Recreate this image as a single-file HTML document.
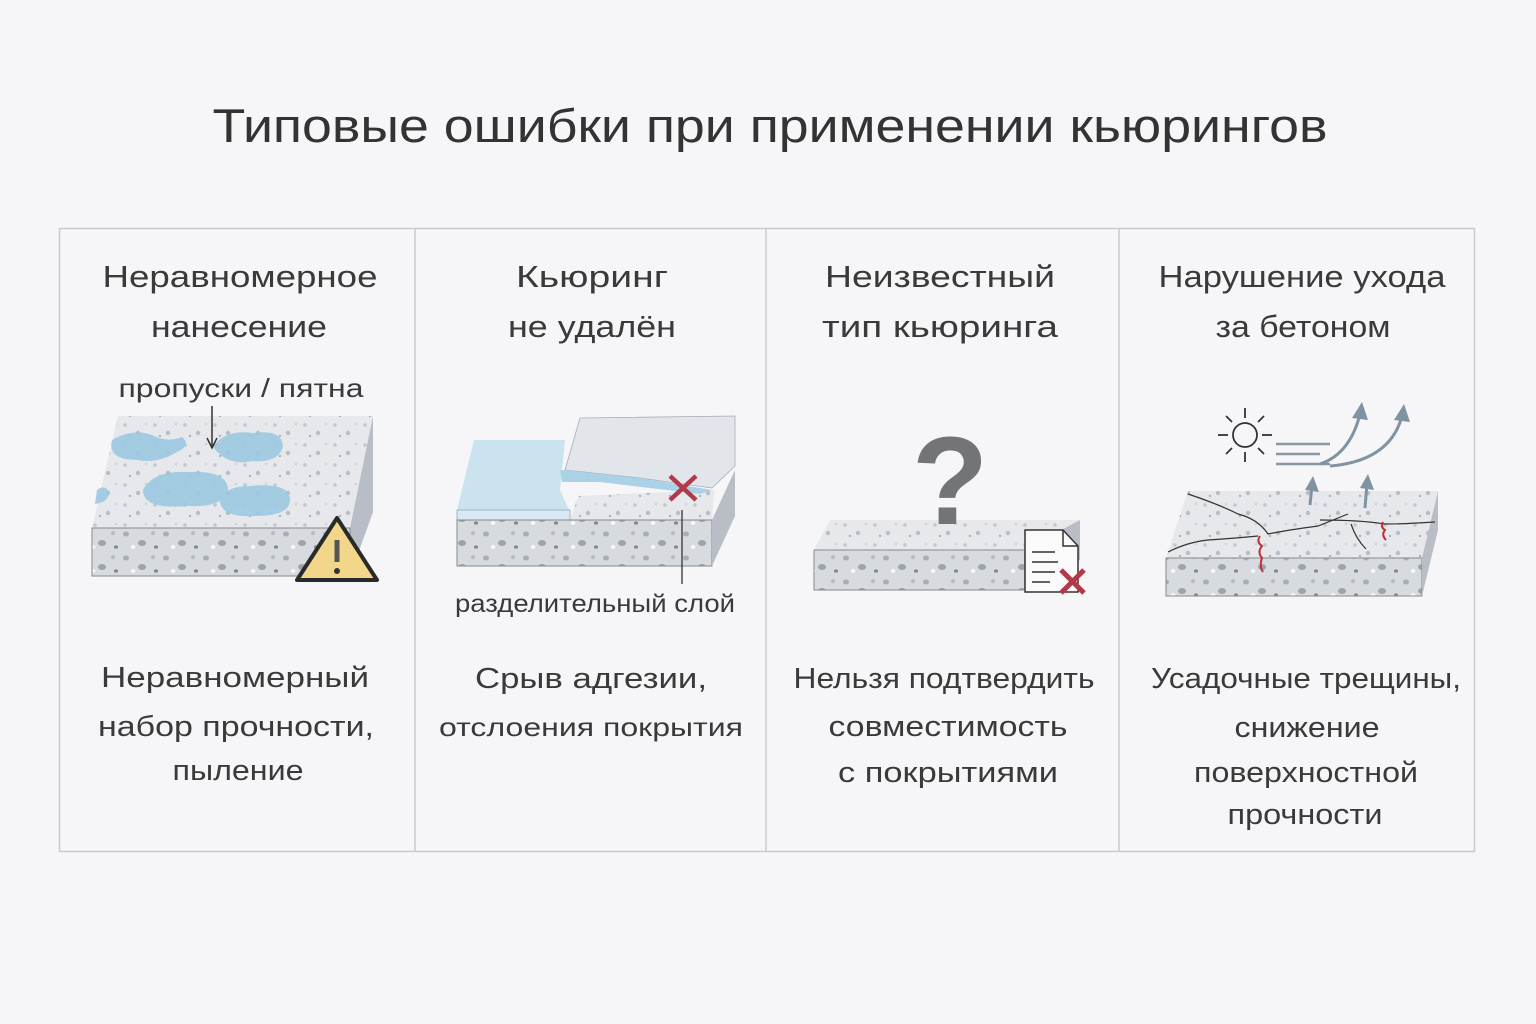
<!DOCTYPE html>
<html><head><meta charset="utf-8"><style>
html,body{margin:0;padding:0;background:#f6f5f8;}
svg{display:block}
text{font-family:"Liberation Sans","DejaVu Sans",sans-serif;fill:#3a3a3a}
</style></head><body>
<svg width="1536" height="1024" viewBox="0 0 1536 1024" xmlns="http://www.w3.org/2000/svg">
<defs>
<pattern id="agg" width="40" height="24" patternUnits="userSpaceOnUse">
<rect width="40" height="24" fill="#d7dadf"/>
<ellipse cx="6" cy="6" rx="3" ry="2.5" fill="#a9adb4"/>
<ellipse cx="22" cy="15" rx="4" ry="3" fill="#9ea3aa"/>
<ellipse cx="33" cy="5" rx="2" ry="2" fill="#b7bbc1"/>
<ellipse cx="13" cy="19" rx="2.5" ry="2" fill="#f4f5f7"/>
<ellipse cx="36" cy="19" rx="2" ry="1.6" fill="#7f848b"/>
</pattern>
<pattern id="aggt" width="30" height="20" patternUnits="userSpaceOnUse">
<rect width="30" height="20" fill="#e6e8ec"/>
<circle cx="5" cy="5" r="1.8" fill="#c3c7cd"/>
<circle cx="18" cy="13" r="2.2" fill="#b9bdc4"/>
<circle cx="26" cy="4" r="1.3" fill="#cfd2d7"/>
<circle cx="10" cy="16" r="1.2" fill="#aeb2b9"/>
</pattern>
</defs>

<text x="770" y="142" font-size="47" text-anchor="middle" textLength="1115" lengthAdjust="spacingAndGlyphs" style="fill:#333">Типовые ошибки при применении кьюрингов</text>

<rect x="59.5" y="228.5" width="1415" height="623" fill="none" stroke="#c9c9cf" stroke-width="1.5"/>
<line x1="415" y1="228" x2="415" y2="852" stroke="#c9c9cf" stroke-width="1.5"/>
<line x1="766" y1="228" x2="766" y2="852" stroke="#c9c9cf" stroke-width="1.5"/>
<line x1="1119" y1="228" x2="1119" y2="852" stroke="#c9c9cf" stroke-width="1.5"/>

<g font-size="31" text-anchor="middle">
<text x="240" y="287" textLength="275" lengthAdjust="spacingAndGlyphs">Неравномерное</text>
<text x="239" y="337" textLength="176" lengthAdjust="spacingAndGlyphs">нанесение</text>
<text x="592" y="287" textLength="152" lengthAdjust="spacingAndGlyphs">Кьюринг</text>
<text x="592" y="337" textLength="168" lengthAdjust="spacingAndGlyphs">не удалён</text>
<text x="940" y="287" textLength="230" lengthAdjust="spacingAndGlyphs">Неизвестный</text>
<text x="940" y="337" textLength="236" lengthAdjust="spacingAndGlyphs">тип кьюринга</text>
<text x="1302" y="287" textLength="287" lengthAdjust="spacingAndGlyphs">Нарушение ухода</text>
<text x="1303" y="337" textLength="175" lengthAdjust="spacingAndGlyphs">за бетоном</text>
</g>
<g font-size="29" text-anchor="middle">
<text x="235" y="687" textLength="268" lengthAdjust="spacingAndGlyphs">Неравномерный</text>
<text x="236" y="736" textLength="276" lengthAdjust="spacingAndGlyphs">набор прочности,</text>
<text x="238" y="780" textLength="131" lengthAdjust="spacingAndGlyphs">пыление</text>
<text x="591" y="688" textLength="232" lengthAdjust="spacingAndGlyphs">Срыв адгезии,</text>
<text x="591" y="736" font-size="26" textLength="304" lengthAdjust="spacingAndGlyphs">отслоения покрытия</text>
<text x="944" y="688" textLength="301" lengthAdjust="spacingAndGlyphs">Нельзя подтвердить</text>
<text x="948" y="736" textLength="239" lengthAdjust="spacingAndGlyphs">совместимость</text>
<text x="948" y="782" textLength="220" lengthAdjust="spacingAndGlyphs">с покрытиями</text>
<text x="1306" y="688" textLength="310" lengthAdjust="spacingAndGlyphs">Усадочные трещины,</text>
<text x="1307" y="737" textLength="145" lengthAdjust="spacingAndGlyphs">снижение</text>
<text x="1306" y="782" textLength="224" lengthAdjust="spacingAndGlyphs">поверхностной</text>
<text x="1305" y="824" textLength="155" lengthAdjust="spacingAndGlyphs">прочности</text>
</g>

<!-- Panel 1 -->
<text x="241" y="397" font-size="26" text-anchor="middle" textLength="245" lengthAdjust="spacingAndGlyphs">пропуски / пятна</text>
<polygon points="92,528 118,416 373,416 350,528" fill="url(#aggt)"/>
<g fill="#9cc9e3" opacity="0.9">
<path d="M112 440 q20 -12 40 -5 q15 8 30 2 q10 8 -5 15 q-20 12 -40 8 q-30 0 -25 -20z"/>
<path d="M213 447 q12 -18 40 -14 q30 -4 30 14 q-5 16 -30 14 q-25 6 -40 -14z"/>
<path d="M143 490 q10 -20 45 -18 q40 -2 40 18 q-5 18 -40 16 q-45 4 -45 -16z"/>
<path d="M220 500 q5 -14 30 -14 q40 -4 40 14 q0 16 -35 16 q-35 2 -35 -16z"/>
<path d="M97 490 q8 -6 12 2 q0 10 -14 12z"/>
</g>
<line x1="212" y1="406" x2="212" y2="446" stroke="#333" stroke-width="1.5"/>
<path d="M207 438 L212 448 L217 438" fill="none" stroke="#333" stroke-width="1.5"/>
<polygon points="350,528 373,416 373,512 350,576" fill="#b9bec6"/>
<rect x="92" y="528" width="258" height="48" fill="url(#agg)" stroke="#888" stroke-width="1"/>
<path d="M337 518 L377 580 L297 580 Z" fill="#f2d68a" stroke="#2a2a2a" stroke-width="4" stroke-linejoin="round"/>
<line x1="337" y1="540" x2="337" y2="562" stroke="#555" stroke-width="5"/>
<circle cx="337" cy="571" r="3" fill="#333"/>

<!-- Panel 2 -->
<polygon points="457,510 474,440 565,440 560,490 570,512" fill="#cbe2ef"/>
<polygon points="457,510 570,510 570,520 457,520" fill="#d8e9f3" stroke="#8aa" stroke-width="0.8"/>
<polygon points="570,520 578,496 714,490 712,520" fill="url(#aggt)"/>
<rect x="457" y="520" width="255" height="46" fill="url(#agg)" stroke="#888" stroke-width="1"/>
<polygon points="712,520 735,470 735,516 712,566" fill="#b9bec6"/>
<polygon points="565,470 580,418 735,416 735,466 712,488 640,478" fill="#e2e5e9" stroke="#aab" stroke-width="0.8"/>
<polygon points="560,470 565,470 640,478 712,490 700,494 600,482 562,482" fill="#a9d2e6"/>
<path d="M670 476 L696 500 M696 476 L670 500" stroke="#b03a4a" stroke-width="4.5"/>
<line x1="682" y1="510" x2="682" y2="584" stroke="#333" stroke-width="1.3"/>
<text x="595" y="612" font-size="25" text-anchor="middle" textLength="280" lengthAdjust="spacingAndGlyphs">разделительный слой</text>

<!-- Panel 3 -->
<polygon points="814,550 830,520 1080,520 1060,550" fill="url(#aggt)"/>
<rect x="814" y="550" width="212" height="40" fill="url(#agg)" stroke="#888" stroke-width="1"/>
<polygon points="1024,550 1080,520 1080,560 1024,590" fill="#b9bec6"/>
<text x="950" y="524" font-size="125" font-weight="bold" text-anchor="middle" style="fill:#727478">?</text>
<path d="M1025 530 L1063 530 L1078 546 L1078 592 L1025 592 Z" fill="#fafafa" stroke="#333" stroke-width="1.5"/>
<path d="M1063 530 L1063 546 L1078 546" fill="none" stroke="#333" stroke-width="1.5"/>
<g stroke="#333" stroke-width="1.5"><line x1="1032" y1="552" x2="1055" y2="552"/><line x1="1032" y1="562" x2="1058" y2="562"/><line x1="1032" y1="572" x2="1055" y2="572"/><line x1="1032" y1="582" x2="1050" y2="582"/></g>
<path d="M1061 570 L1084 593 M1084 570 L1061 593" stroke="#b03a4a" stroke-width="5"/>

<!-- Panel 4 -->
<polygon points="1166,558 1188,491 1438,491 1422,558" fill="url(#aggt)"/>
<rect x="1166" y="558" width="256" height="38" fill="url(#agg)" stroke="#888" stroke-width="1"/>
<polygon points="1422,558 1438,491 1438,530 1422,596" fill="#b9bec6"/>
<g fill="none" stroke="#333" stroke-width="1.2">
<path d="M1188 494 q30 10 50 20 q20 5 30 20 q20 -4 50 -8 q20 -8 30 -12"/>
<path d="M1168 552 q20 -10 40 -12 q30 -2 50 -4"/>
<path d="M1320 520 q40 0 65 4 q20 0 50 -2"/>
<path d="M1351 524 q5 15 15 25"/>
</g>
<path d="M1260 536 q-4 6 2 10 q-5 6 0 12 q-3 8 1 14" fill="none" stroke="#c0303a" stroke-width="2"/>
<path d="M1383 522 q-3 5 2 8 q-4 5 1 10" fill="none" stroke="#c0303a" stroke-width="2"/>
<circle cx="1245" cy="435" r="12" fill="none" stroke="#333" stroke-width="1.8"/>
<g stroke="#333" stroke-width="1.8">
<line x1="1245" y1="408" x2="1245" y2="418"/><line x1="1245" y1="452" x2="1245" y2="462"/>
<line x1="1218" y1="435" x2="1228" y2="435"/><line x1="1262" y1="435" x2="1272" y2="435"/>
<line x1="1226" y1="416" x2="1232" y2="422"/><line x1="1258" y1="448" x2="1264" y2="454"/>
<line x1="1264" y1="416" x2="1258" y2="422"/><line x1="1226" y1="454" x2="1232" y2="448"/>
</g>
<g stroke="#8a96a0" stroke-width="2.5"><line x1="1276" y1="444" x2="1330" y2="444"/><line x1="1276" y1="454" x2="1320" y2="454"/><line x1="1276" y1="464" x2="1330" y2="464"/></g>
<g fill="none" stroke="#7f93a2" stroke-width="3">
<path d="M1320 464 q30 -10 40 -50"/><path d="M1330 466 q60 -5 72 -50"/>
<path d="M1310 505 l2 -20"/><path d="M1365 508 l2 -25"/>
</g>
<g fill="#7f93a2">
<path d="M1352 418 l10 -16 l6 18z"/><path d="M1394 420 l10 -16 l6 18z"/>
<path d="M1305 490 l8 -14 l6 16z"/><path d="M1360 488 l8 -14 l6 16z"/>
</g>
</svg>
</body></html>
